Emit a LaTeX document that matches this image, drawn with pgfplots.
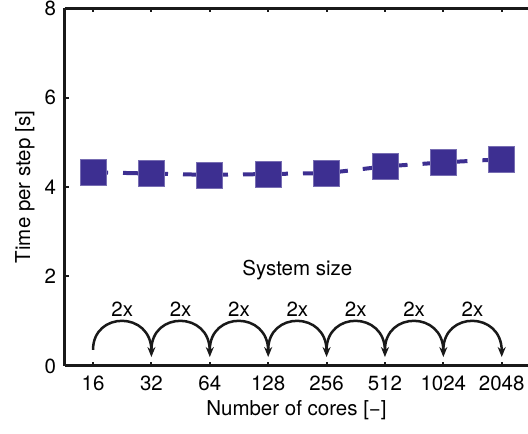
\documentclass[border=0pt]{standalone}
\usepackage{pgfplots}
\pgfplotsset{compat=1.18}
\usepackage{fontspec}
\setmainfont{TeX Gyre Heros}
\usetikzlibrary{arrows.meta}
\definecolor{series}{RGB}{61,47,145}
\begin{document}
\fontsize{20.5}{24}\selectfont
\begin{tikzpicture}
\useasboundingbox (-65pt,-68pt) rectangle (463pt,366pt);
\begin{axis}[
  at={(0,0)}, anchor=south west,
  scale only axis, width=463pt, height=358pt,
  xmin=-0.48, xmax=7.45, ymin=0, ymax=8,
  axis x line=box, axis y line=left,
  axis line style={line width=3pt, black!90, -},
  xtick={0,...,7},
  xticklabels={16,32,64,128,256,512,1024,2048},
  ytick={0,2,4,6,8},
  xtick pos=both, ytick pos=left,
  tick align=inside,
  major tick length=4pt,
  tick style={line width=2pt, black!90},
  /pgf/number format/assume math mode=true,
  ticklabel style={font=\fontsize{20.5}{24}\selectfont},
  label style={font=\fontsize{20.5}{24}\selectfont},
  xlabel={Number of cores [\textminus]},
  ylabel={Time per step [s]},
  xlabel style={yshift=4pt},
  ylabel style={yshift=-4pt},
  xticklabel style={yshift=-3pt},
  yticklabel style={xshift=-2pt},
  clip=false,
]
\addplot[series, line width=4pt, dash pattern=on 15pt off 15pt,
  mark=square*, mark size=13pt, mark options={solid, fill=series, draw=series!70, line width=0.6pt}]
  coordinates {(0,4.33) (1,4.30) (2,4.27) (3,4.29) (4,4.31) (5,4.46) (6,4.55) (7,4.62)};
\foreach \i in {0,...,6} {
  \pgfmathsetmacro{\j}{\i+1}
  \pgfmathsetmacro{\m}{\i+0.5}
  \edef\temp{\noexpand\draw[line width=2.5pt, black!90, -{Stealth[length=10pt,width=8pt]}]
    (axis cs:\i,0.36) .. controls (axis cs:\i,1.23) and (axis cs:\j,1.23) .. (axis cs:\j,0.20);
    \noexpand\node[font=\noexpand\fontsize{20.5}{24}\noexpand\selectfont] at (axis cs:\m,1.27) {2x};}
  \temp
}
\node[font=\fontsize{20.5}{24}\selectfont] at (axis cs:3.5,2.15) {System size};
\end{axis}
\end{tikzpicture}
\end{document}
